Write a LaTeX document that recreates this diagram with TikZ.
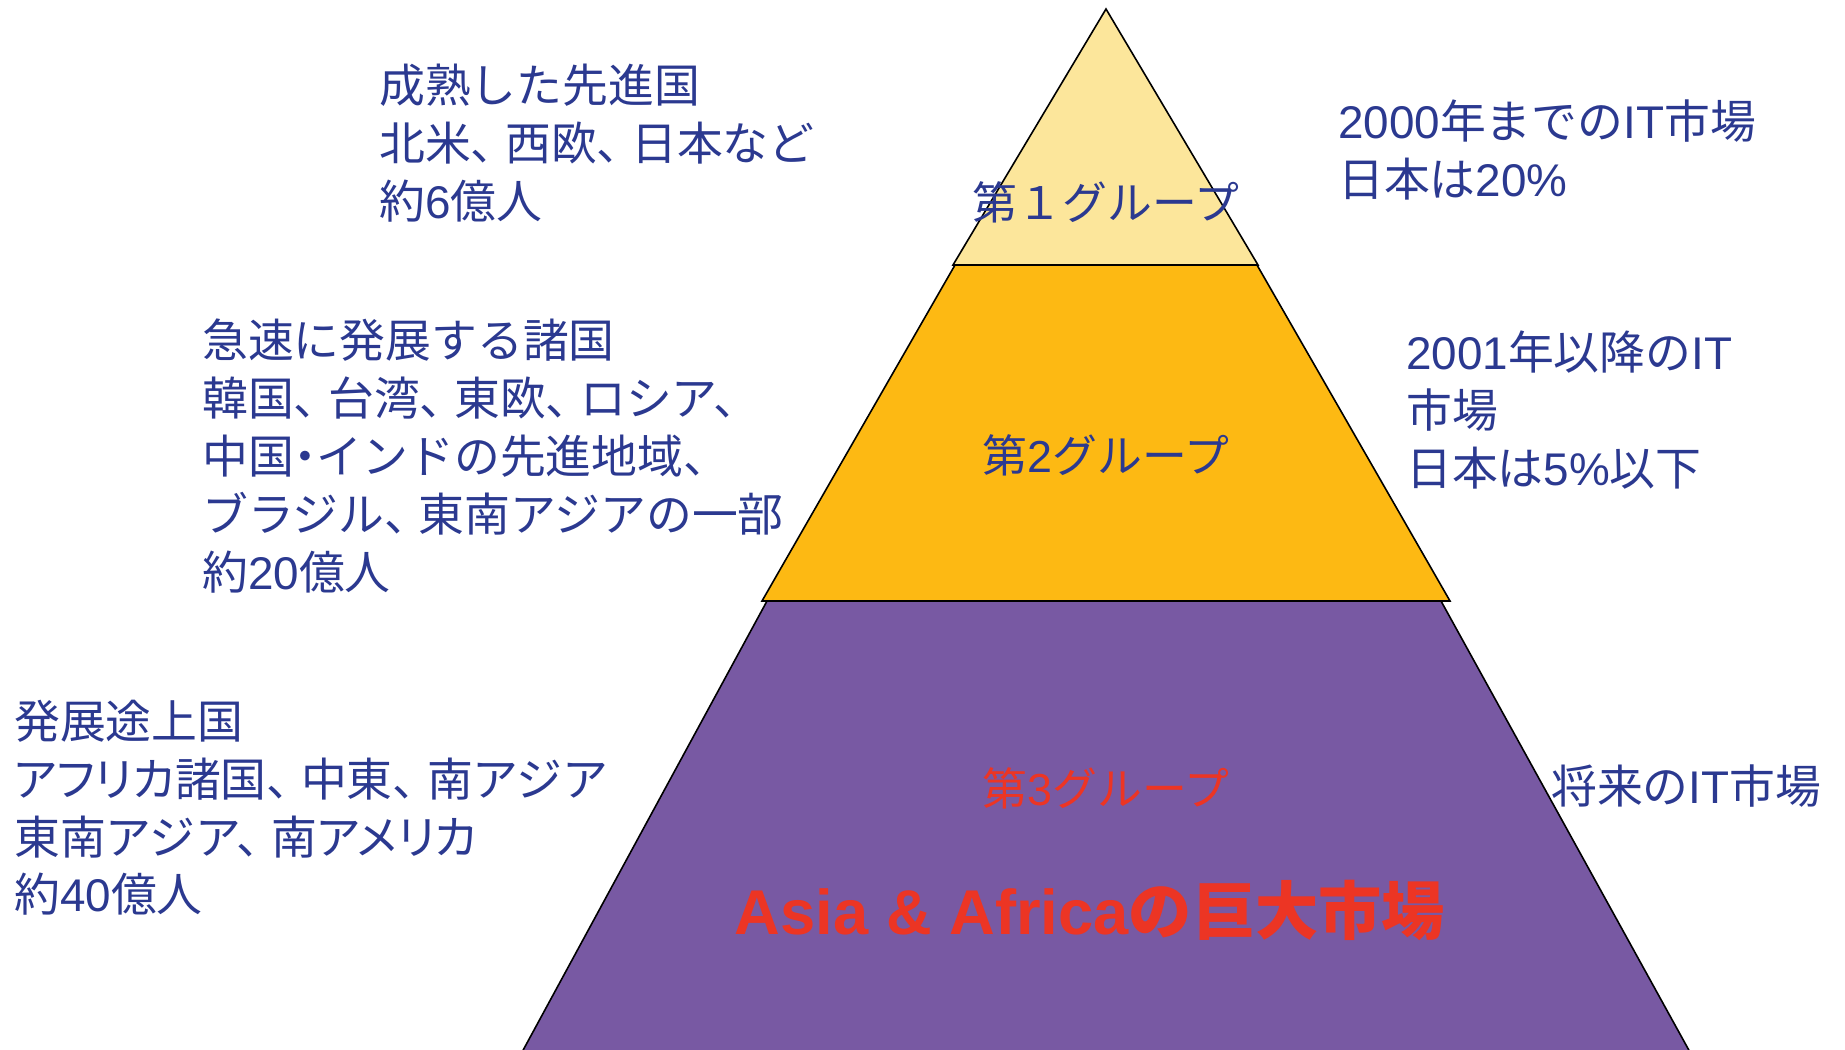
\documentclass[tikz,border=0pt]{standalone}
\usepackage{fontspec}
\setmainfont{Noto Sans CJK JP}
\newfontfamily\latinfont{Liberation Sans}
\newfontfamily\propfont{Noto Sans CJK JP}[RawFeature=+palt]
\newcommand\lat[1]{{\latinfont #1}}
\newcommand\pw[1]{{\propfont #1}}
\newcommand\cma{、\kern-0.25em}
\definecolor{txtblue}{RGB}{43,57,144}
\definecolor{lyellow}{RGB}{252,230,155}
\definecolor{morange}{RGB}{253,185,19}
\definecolor{bpurple}{RGB}{120,89,163}
\definecolor{tred}{RGB}{236,53,36}
\begin{document}
\begin{tikzpicture}[x=1bp,y=-1bp,
  layer/.style={draw=black,line width=1.6bp,line join=miter},
  lbl/.style={font=\fontsize{46}{58}\selectfont,text=txtblue,align=left,anchor=west,inner sep=0pt},
  grp/.style={font=\fontsize{45}{58}\selectfont,inner sep=0pt}]
\useasboundingbox (0,0) rectangle (1845,1049);
\fill[white] (0,0) rectangle (1845,1049);
% bottom layer
\draw[layer,fill=bpurple] (767,601) -- (1441,601) -- (1691,1054) -- (521,1054) -- cycle;
% middle layer
\draw[layer,fill=morange] (955,265) -- (1257,265) -- (1450,601) -- (762,601) -- cycle;
% top layer
\draw[layer,fill=lyellow] (1106,9) -- (1258,265) -- (953,265) -- cycle;
% group labels
\node[grp,text=txtblue] (g1) at (1106,202) {第１グループ};
\node[grp,text=txtblue] (g2) at (1106,455) {第\lat{2}グループ};
\node[grp,text=tred] (g3) at (1106,788) {第\lat{3}グループ};
\node[inner sep=0pt,text=tred,font=\fontsize{63.5}{70}\selectfont\bfseries] (asia) at (1090,910) {{\latinfont\bfseries Asia \& Africa}の巨大市場};
% left texts
\node[lbl] (l1) at (379,143) {成熟した先進国\\北米\cma 西欧\cma 日本など\\約\lat{6}億人};
\node[lbl] (l2) at (202,456) {急速に発展する諸国\\韓国\cma 台湾\cma 東欧\cma ロシア\cma\\中国\pw{・}インドの先進地域\cma\\ブラジル\cma 東南アジアの一部\\約\lat{20}億人};
\node[lbl] (l3) at (14,808) {発展途上国\\\pw{アフリカ}諸国\cma 中東\cma 南アジア\\東南アジア\cma 南\pw{アメリカ}\\約\lat{40}億人};
% right texts
\node[lbl] (r1) at (1338,150) {\lat{2000}年までの\lat{IT}市場\\日本は\lat{20\%}};
\node[lbl] (r2) at (1406,410) {\lat{2001}年以降の\lat{IT}\\市場\\日本は\lat{5\%}以下};
\node[lbl] (r3) at (1551,786) {将来の\lat{IT}市場};
\end{tikzpicture}
\end{document}
